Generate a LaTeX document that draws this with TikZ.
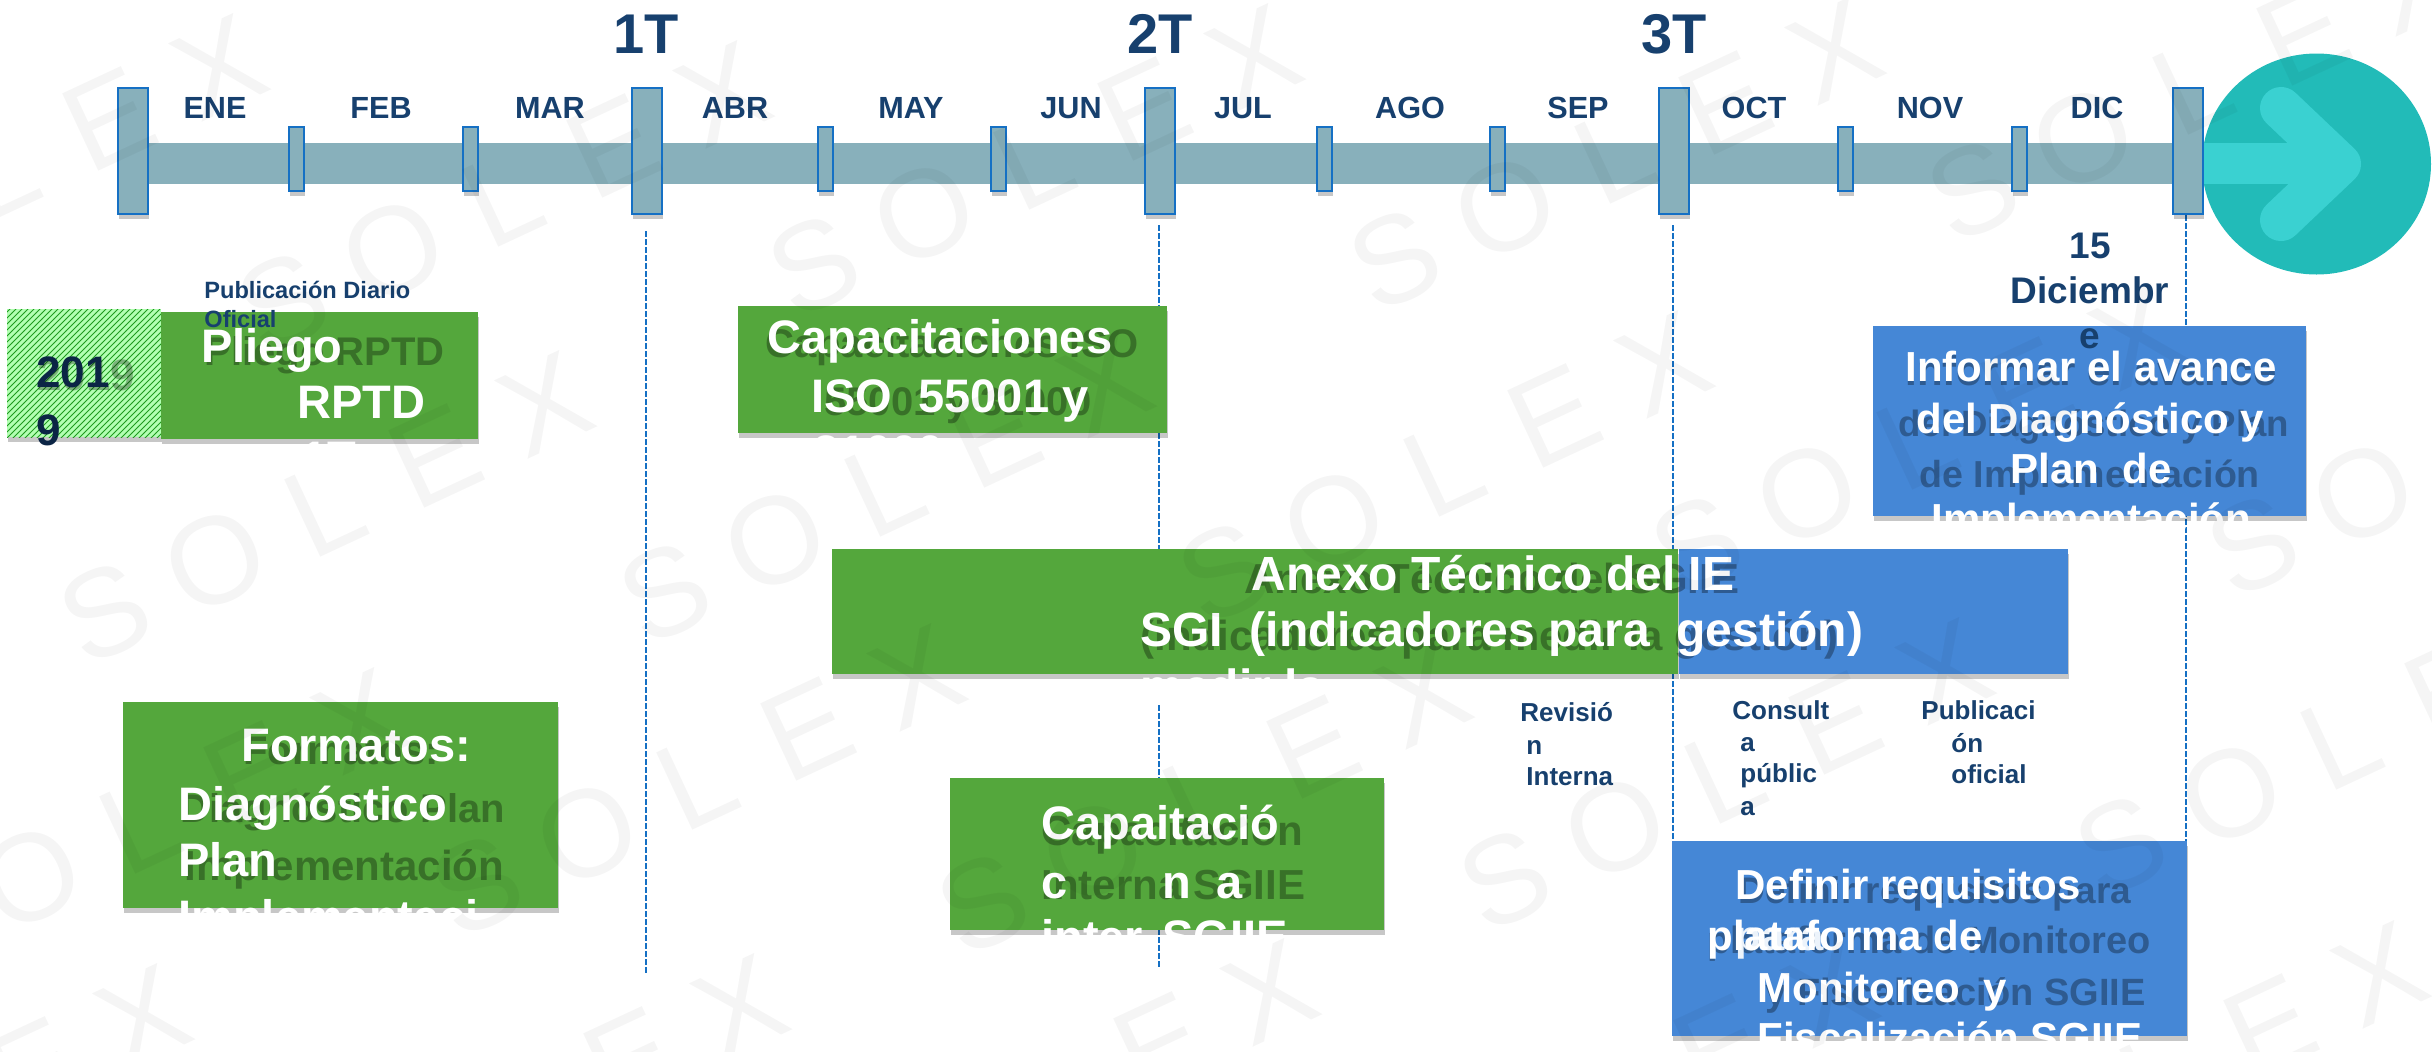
\documentclass[tikz,border=0pt]{standalone}
\usepackage{fontspec}
\setmainfont{Liberation Sans}
\usetikzlibrary{positioning}
\usetikzlibrary{patterns}
\usetikzlibrary{shadows}
\usetikzlibrary{shapes.geometric}
\definecolor{barC}{HTML}{88B0BB}
\definecolor{edgeC}{HTML}{1570C4}
\definecolor{greenC}{HTML}{54A73C}
\definecolor{blueC}{HTML}{4587D6}
\definecolor{navyC}{HTML}{17406E}
\definecolor{inkC}{HTML}{0B2545}
\definecolor{tealC}{HTML}{22BBB8}
\definecolor{aquaC}{HTML}{3AD1D1}
\definecolor{hatchC}{HTML}{1F9A1F}
\tikzset{boxshadow/.style={drop shadow={shadow xshift=0.5pt,shadow yshift=-2.5pt,fill=black,opacity=.22}}}
\tikzstyle{bgt}=[draw=edgeC,line width=1pt,fill=barC,boxshadow,shape=rectangle,minimum width=15pt,minimum height=63pt,inner sep=0pt]
\tikzstyle{smt}=[draw=edgeC,line width=1pt,fill=barC,boxshadow,shape=rectangle,minimum width=7.5pt,minimum height=32pt,inner sep=0pt]
\tikzstyle{gbx}=[fill=greenC,boxshadow,shape=rectangle,node distance=0cm,inner sep=0pt]
\tikzstyle{bbx}=[fill=blueC,boxshadow,shape=rectangle,node distance=0cm,inner sep=0pt]
\tikzstyle{wtx}=[text=white,anchor=base west,inner sep=0pt,font=\fontsize{23.5pt}{28pt}\selectfont\bfseries]
\tikzstyle{wts}=[text=white,anchor=base west,inner sep=0pt,font=\fontsize{21pt}{25pt}\selectfont\bfseries]
\tikzstyle{gho}=[text=black,text opacity=.32,anchor=base west,inner sep=0pt,font=\fontsize{20pt}{24pt}\selectfont\bfseries]
\tikzstyle{qlb}=[text=navyC,anchor=base,inner sep=0pt,font=\fontsize{28pt}{32pt}\selectfont\bfseries]
\tikzstyle{mlb}=[text=navyC,anchor=base,inner sep=0pt,font=\fontsize{15.3pt}{18pt}\selectfont\bfseries]
\tikzstyle{slb}=[text=navyC,anchor=base west,inner sep=0pt,font=\fontsize{13pt}{16pt}\selectfont\bfseries]
\tikzstyle{dline}=[edgeC,line width=1pt,dash pattern=on 3pt off 1pt]
\tikzstyle{wmk}=[text=black,text opacity=.04,inner sep=0pt,rotate=25,font=\fontsize{62pt}{70pt}\selectfont]
\def\bgt{\node[style=bgt]}
\def\smt{\node[style=smt]}
\def\gbx{\node[style=gbx]}
\def\bbx{\node[style=bbx]}
\def\wtx{\node[style=wtx]}
\def\wts{\node[style=wts]}
\def\gho{\node[style=gho]}
\def\qlb{\node[style=qlb]}
\def\mlb{\node[style=mlb]}
\def\slb{\node[style=slb]}
\begin{document}
\begin{tikzpicture}[x=0.5pt,y=-0.5pt]
      \useasboundingbox (0,0) rectangle (2432,1051);
      % quarter guides
      \coordinate (Dtop1) at (645.5,231);  \coordinate (Dbot1) at (645.5,973);
      \coordinate (Dtop2) at (1159,225);   \coordinate (Dbot2) at (1159,674);
      \coordinate (Dtop3) at (1159,705);   \coordinate (Dbot3) at (1159,967);
      \coordinate (Dtop4) at (1672.7,225); \coordinate (Dbot4) at (1672.7,841);
      \coordinate (Dtop5) at (2185.5,215); \coordinate (Dbot5) at (2185.5,841);
      \draw[style=dline] (Dtop1) -- (Dbot1);
      \draw[style=dline] (Dtop2) -- (Dbot2);
      \draw[style=dline] (Dtop3) -- (Dbot3);
      \draw[style=dline] (Dtop4) -- (Dbot4);
      \draw[style=dline] (Dtop5) -- (Dbot5);
      % end arrow
      \node[ellipse,fill=tealC,inner sep=0pt,minimum width=114.5pt,minimum height=110.5pt] (Endnode) at (2316.5,164) {};
      \fill[aquaC] (2203,143) rectangle (2340,184);
      \draw[aquaC,line width=21pt,line cap=round,line join=round] (2281,108) -- (2340,164) -- (2281,220);
      % bar and ticks
      \node[fill=barC,inner sep=0pt,minimum width=1030pt,minimum height=20.5pt] (Barnode) at (1160,163.5) {};
      \bgt (Qnode0) at (132.5,151)  {};
      \smt (Snode0) at (296,158.5)  {};
      \smt (Snode1) at (470,158.5)  {};
      \bgt (Qnode1) at (646.5,151)  {};
      \smt (Snode2) at (825,158.5)  {};
      \smt (Snode3) at (998.5,158.5) {};
      \bgt (Qnode2) at (1160,151)   {};
      \smt (Snode4) at (1324,158.5) {};
      \smt (Snode5) at (1497,158.5) {};
      \bgt (Qnode3) at (1673.5,151) {};
      \smt (Snode6) at (1845,158.5) {};
      \smt (Snode7) at (2019,158.5) {};
      \bgt (Qnode4) at (2187.5,151) {};
      % labels
      \qlb (Qlab1) at (646,53)  {1T};
      \qlb (Qlab2) at (1160,53) {2T};
      \qlb (Qlab3) at (1674,53) {3T};
      \mlb (Mnode0)  at (215,118)  {ENE};
      \mlb (Mnode1)  at (381,118)  {FEB};
      \mlb (Mnode2)  at (550,118)  {MAR};
      \mlb (Mnode3)  at (735,118)  {ABR};
      \mlb (Mnode4)  at (911,118)  {MAY};
      \mlb (Mnode5)  at (1071,118) {JUN};
      \mlb (Mnode6)  at (1243,118) {JUL};
      \mlb (Mnode7)  at (1410,118) {AGO};
      \mlb (Mnode8)  at (1578,118) {SEP};
      \mlb (Mnode9)  at (1754,118) {OCT};
      \mlb (Mnode10) at (1930,118) {NOV};
      \mlb (Mnode11) at (2097,118) {DIC};
      % 2019
      \node[fill=green!30!white,boxshadow,inner sep=0pt,minimum width=77pt,minimum height=64pt] (Ybase) at (84,373) {};
      \node[pattern=north east lines,pattern color=hatchC,inner sep=0pt,minimum width=77pt,minimum height=64pt] (Ynode) at (84,373) {};
      \node[text=black,text opacity=.3,anchor=base west,inner sep=0pt,font=\fontsize{22pt}{26pt}\selectfont\bfseries] (Yghost) at (37,390) {2019};
      \node[text=inkC,anchor=base west,inner sep=0pt,font=\fontsize{22pt}{26pt}\selectfont\bfseries] (Ytxt0) at (36,387) {201};
      \node[text=inkC,anchor=base west,inner sep=0pt,font=\fontsize{22pt}{26pt}\selectfont\bfseries] (Ytxt1) at (36,445) {9};
      % Pliego
      \gbx (Pnode) [minimum width=158.5pt,minimum height=63.5pt] at (319.5,375.5) {};
      \gho (Pgh0) at (204,365) {Pliego RPTD};
      \wtx (Ptxt0) at (201,362) {Pliego};
      \wtx (Ptxt1) at (297,418) {RPTD};
      \wtx (Ptxt2) at (301,474) {1T};
      \slb (Pub0) [font=\fontsize{11.8pt}{14pt}\selectfont\bfseries] at (204,298) {Publicación Diario};
      \slb (Pub1) [font=\fontsize{11.8pt}{14pt}\selectfont\bfseries] at (204,327) {Oficial};
      % Capacitaciones
      \gbx (Cnode) [minimum width=214.5pt,minimum height=63.5pt] at (952.5,369.5) {};
      \gho (Cgh0) at (765,357) {Capacitaciones ISO};
      \gho (Cgh1) at (824,415) {55001 y 31000};
      \wtx (Ctxt0) at (767,353) {Capacitaciones};
      \wtx (Ctxt1) at (811,412) {ISO~~55001 y};
      \wtx (Ctxt2) at (813,468) {31000};
      % Informar
      \bbx (Inode) [minimum width=216.5pt,minimum height=95pt] at (2089.5,420.5) {};
      \gho (Igh0) [font=\fontsize{21pt}{25pt}\selectfont\bfseries] at (1905,385) {Informar el avance};
      \gho (Igh1) [font=\fontsize{18.3pt}{22pt}\selectfont\bfseries] at (1898,436) {del Diagnóstico y Plan};
      \gho (Igh2) [font=\fontsize{18.8pt}{22pt}\selectfont\bfseries] at (1919,487) {de Implementación};
      \node[text=navyC,anchor=base,inner sep=0pt,font=\fontsize{18.5pt}{22pt}\selectfont\bfseries] (Dtxt0) at (2090,258) {15};
      \node[text=navyC,anchor=base,inner sep=0pt,font=\fontsize{18.5pt}{22pt}\selectfont\bfseries] (Dtxt1) at (2090,303) {Diciembr};
      \node[text=navyC,anchor=base,inner sep=0pt,font=\fontsize{18.5pt}{22pt}\selectfont\bfseries] (Dtxt2) at (2090,348) {e};
      \wts (Itxt0) at (1905,381) {Informar el avance};
      \wts (Itxt1) at (1916,433) {del Diagnóstico y};
      \wts (Itxt2) at (2010,483) {Plan~~de};
      \wts (Itxt3) at (1931,533) {Implementación};
      % Anexo
      \gbx (Anode0) [minimum width=423pt,minimum height=62.5pt] at (1255,611.5) {};
      \bbx (Anode1) [minimum width=194.5pt,minimum height=62.5pt,right=of Anode0] {};
      \gho (Agh0) [font=\fontsize{21pt}{25pt}\selectfont\bfseries] at (1244,593) {Anexo Técnico del SGIIE};
      \gho (Agh1) [font=\fontsize{21pt}{25pt}\selectfont\bfseries] at (1140,650) {(indicadores para medir la gestión)};
      \wtx (Atxt0) [font=\fontsize{24pt}{28pt}\selectfont\bfseries] at (1251,590) {Anexo Técnico del IE};
      \wtx (Atxt1) [font=\fontsize{24pt}{28pt}\selectfont\bfseries] at (1140,646.5) {SGI~~(indicadores para~~gestión)};
      \wtx (Atxt2) [font=\fontsize{24pt}{28pt}\selectfont\bfseries] at (1140,703) {medir la};
      % Formatos
      \gbx (Fnode) [minimum width=217.5pt,minimum height=103pt] at (340.5,805) {};
      \gho (Fgh0) at (243,764) {Formatos:};
      \gho (Fgh1) [font=\fontsize{20pt}{24pt}\selectfont\bfseries] at (180,822) {Diagnóstico Plan};
      \gho (Fgh2) [font=\fontsize{21pt}{25pt}\selectfont\bfseries] at (184,880) {Implementación};
      \wtx (Ftxt0) at (241,761) {Formatos:};
      \wtx (Ftxt1) at (178,820) {Diagnóstico};
      \wtx (Ftxt2) at (178,876) {Plan};
      \wtx (Ftxt3) at (178,933) {Implementaci};
      % Capacitacion
      \gbx (Knode) [minimum width=217pt,minimum height=76pt] at (1167,854) {};
      \gho (Kgh0) [font=\fontsize{21pt}{25pt}\selectfont\bfseries] at (1041,845) {Capacitación};
      \gho (Kgh1) [font=\fontsize{21pt}{25pt}\selectfont\bfseries] at (1041,899) {Interna SGIIE};
      \wtx (Ktxt0) at (1041,839) {Capaitació};
      \wtx (Ktxt1) at (1041,898) {c};
      \wtx (Ktxt2) at (1162,898) {n};
      \wtx (Ktxt3) at (1216,898) {a};
      \wtx (Ktxt4) at (1041,953) {inter};
      \wtx (Ktxt5) at (1162,953) {SGIIE};
      % Definir
      \bbx (Enode) [minimum width=257.5pt,minimum height=97.5pt] at (1929.5,938.5) {};
      \gho (Egh0) [font=\fontsize{18.5pt}{22pt}\selectfont\bfseries] at (1738,903) {Definir requisitos para};
      \gho (Egh1) [font=\fontsize{19pt}{23pt}\selectfont\bfseries] at (1707,953) {plataforma de Monitoreo};
      \gho (Egh2) [font=\fontsize{19pt}{23pt}\selectfont\bfseries] at (1765,1005) {y Fiscalización SGIIE};
      \wts (Etxt0) at (1735,899) {Definir requisitos};
      \wts (Etxt1) [text=white!90!blueC] at (1735,950) {para};
      \wts (Etxt2) at (1707,950) {plataforma de};
      \wts (Etxt3) at (1757,1002) {Monitoreo~~y};
      \wts (Etxt4) at (1757,1052) {Fiscalización SGIIE};
      % small labels
      \slb (Rtxt0) at (1520,721) {Revisió};
      \slb (Rtxt1) at (1526,754) {n};
      \slb (Rtxt2) at (1526,785) {Interna};
      \slb (Stxt0) at (1732,719) {Consult};
      \slb (Stxt1) at (1740,751) {a};
      \slb (Stxt2) at (1740,782) {públic};
      \slb (Stxt3) at (1740,815) {a};
      \slb (Otxt0) at (1921,719) {Publicaci};
      \slb (Otxt1) at (1951,752) {ón};
      \slb (Otxt2) at (1951,783) {oficial};
      % watermark
      \foreach \wx/\wy in {-111/223,393/250,924/213,1505/207,2083/138,
                           215/560,775/540,1334/520,1807/493,2363/493,
                           30/877,587/833,1093/851,1615/827,2231/793,
                           -187/1173,410/1163,940/1148,1500/1150,2050/1130}
        \foreach \lt [count=\li from -1] in {S,O,L,E,X}
          \node[style=wmk] (Wm\wx\lt) at (\wx+110*\li,\wy-52*\li) {\lt};
\end{tikzpicture}
\end{document}
